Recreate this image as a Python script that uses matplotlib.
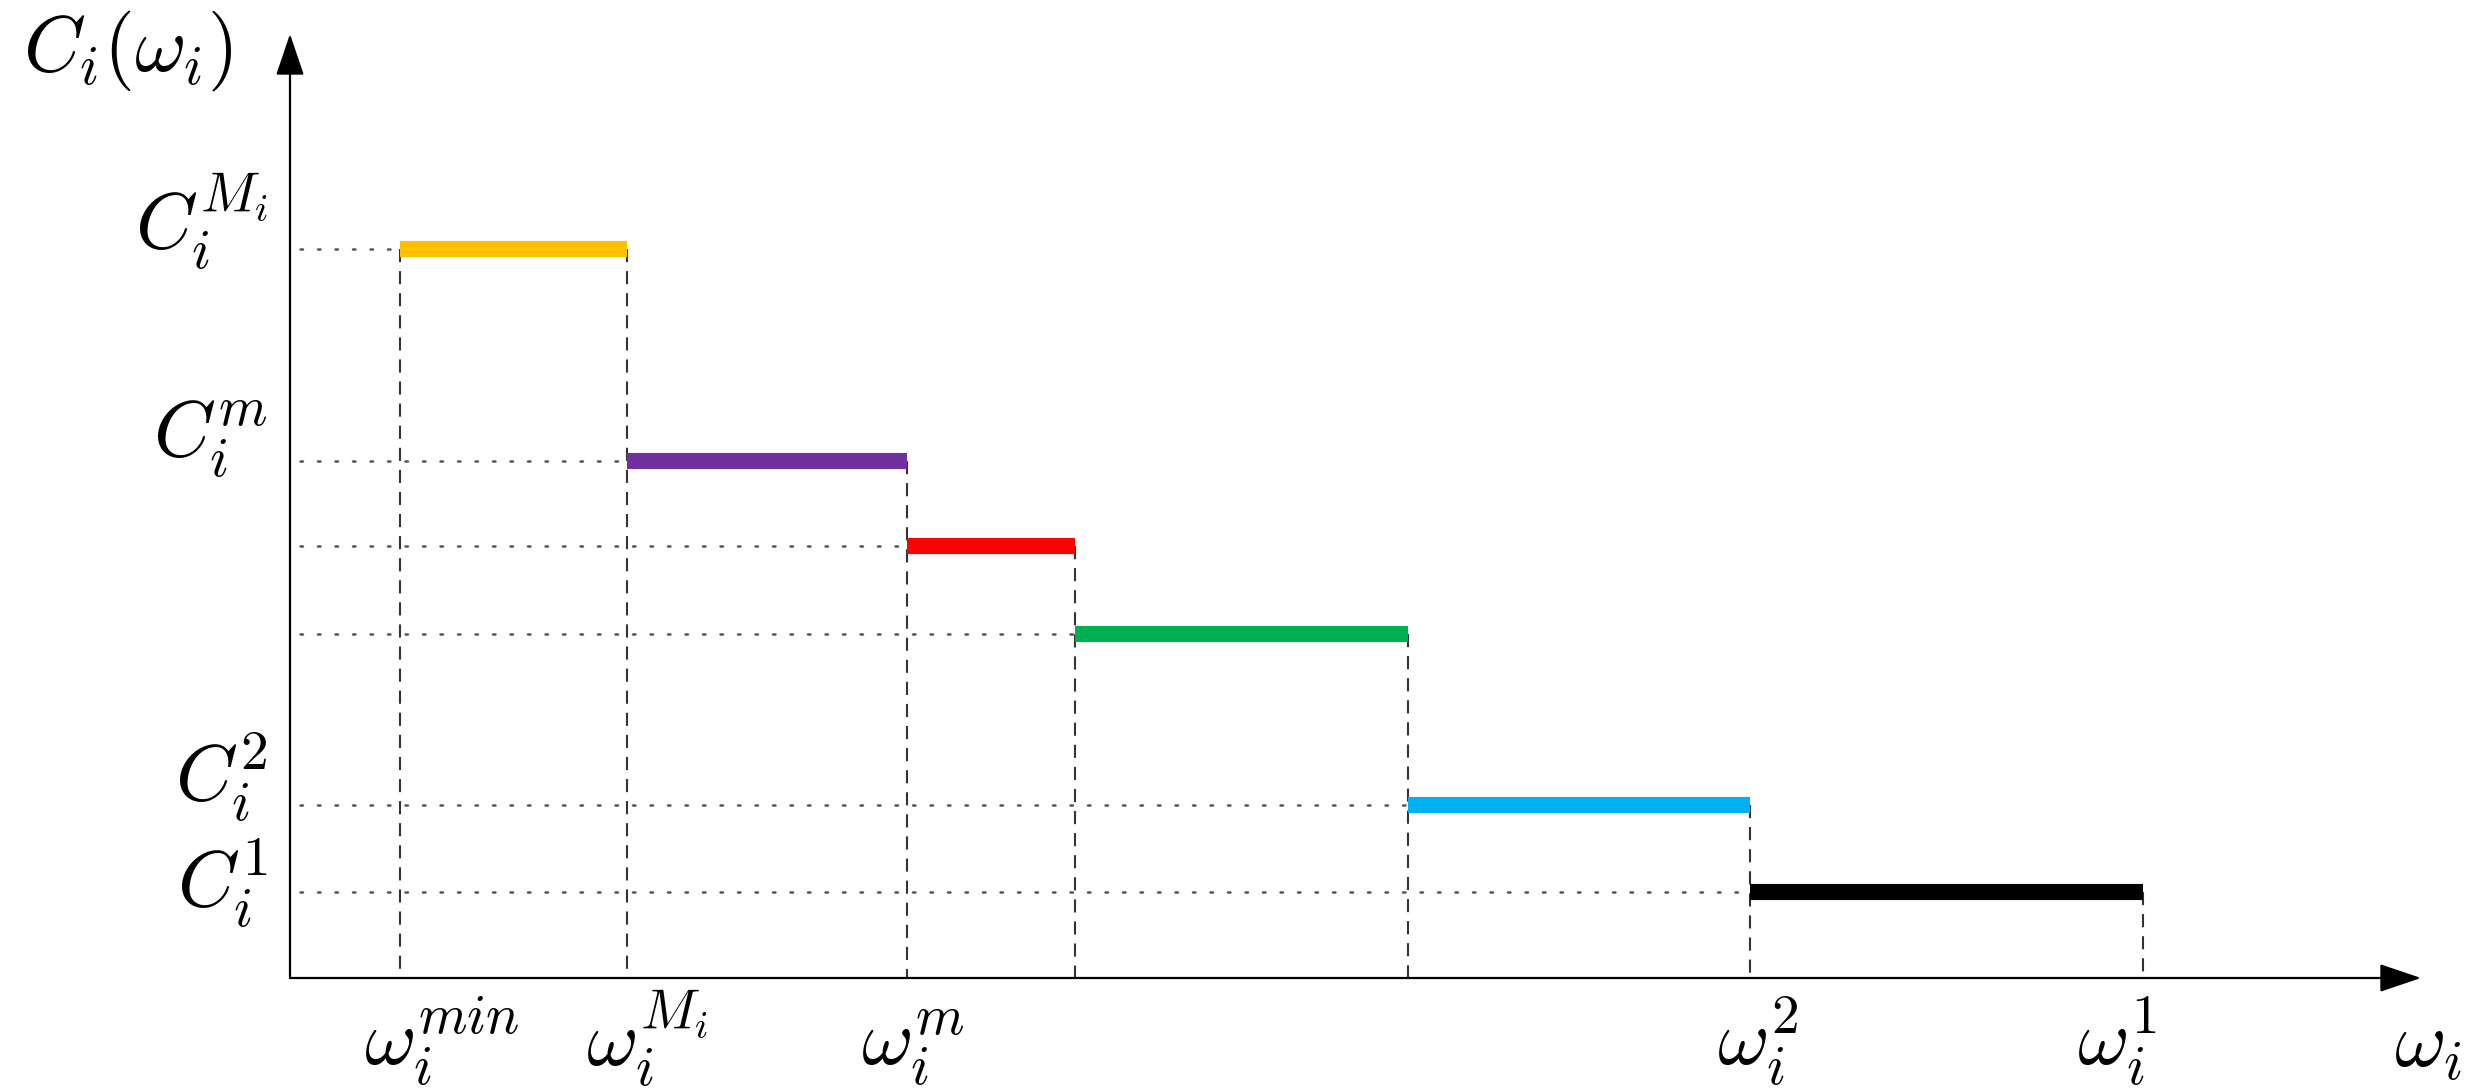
import matplotlib
matplotlib.use('Agg')
import matplotlib.pyplot as plt

plt.rcParams['mathtext.fontset'] = 'cm'

# step function: breakpoints on the omega axis and cost level of each step
breaks = [1.10, 3.37, 6.17, 7.85, 11.18, 14.60, 18.53]
levels = [7.29, 5.17, 4.32, 3.44, 1.73, 0.86]
colors = ['#FFC000', '#7030A0', '#FF0000', '#00B050', '#00B0F0', '#000000']

# labels on the cost axis (None = no label for that level)
ylabels = [r'$C_i^{M_i}$', r'$C_i^{m}$', None, None, r'$C_i^{2}$', r'$C_i^{1}$']
ylabel_shift = [0.01, 0.04, 0, 0, 0.04, -0.15]

# labels under the omega axis
xlabels = [r'$\omega_i^{min}$', r'$\omega_i^{M_i}$', r'$\omega_i^{m}$', r'$\omega_i^{2}$', r'$\omega_i^{1}$']
xlabel_pos = [1.52, 3.57, 6.23, 14.68, 18.27]

x_end = 21.31
y_end = 9.44
fs = 28.5

fig = plt.figure(figsize=(12.45, 5.44), dpi=200)
ax = fig.add_axes([0, 0, 1, 1])
ax.set_xlim(-2.90, 22.00)
ax.set_ylim(-1.10, 9.78)
ax.axis('off')

# axes with arrow heads
arrow = dict(arrowstyle='-|>,head_length=0.65,head_width=0.22', lw=0.8,
             color='black', shrinkA=0, shrinkB=0, mutation_scale=20)
ax.annotate('', xy=(x_end, 0), xytext=(0, 0), arrowprops=arrow)
ax.annotate('', xy=(0, y_end), xytext=(0, 0), arrowprops=arrow)

# one dashed drop per breakpoint, from the higher step touching it
for k, xx in enumerate(breaks):
    top = levels[k - 1] if k > 0 else levels[0]
    ax.plot([xx, xx], [top, 0], color='#333333', lw=0.75,
            dashes=(6.3, 4.3), zorder=1)

for i, lev in enumerate(levels):
    x0, x1 = breaks[i], breaks[i + 1]
    # dotted guide from the cost axis to the start of the step
    ax.plot([0.1, x0], [lev, lev], color='#555555', lw=0.9,
            dashes=(1, 6), dash_capstyle='round', zorder=1)
    ax.plot([x0, x1], [lev, lev], color=colors[i], lw=5.8,
            solid_capstyle='butt', zorder=3)
    if ylabels[i] is not None:
        ax.text(-0.22, lev + ylabel_shift[i], ylabels[i], fontsize=fs,
                ha='right', va='baseline')

for lab, xx in zip(xlabels, xlabel_pos):
    ax.text(xx, -0.87, lab, fontsize=fs, ha='center', va='baseline')

ax.text(21.38, -0.89, r'$\omega_i$', fontsize=fs, ha='center', va='baseline')
ax.text(-1.62, 9.07, r'$C_i(\omega_i)$', fontsize=fs, ha='center', va='baseline')

fig.savefig('out.png', dpi=200)
